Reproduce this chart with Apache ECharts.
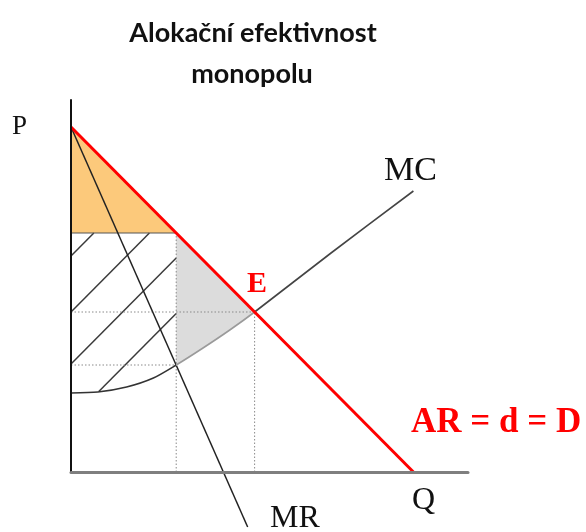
<!DOCTYPE html>
<html>
<head>
<meta charset="utf-8">
<title>Alokační efektivnost monopolu</title>
<script src="https://cdn.jsdelivr.net/npm/echarts@6/dist/echarts.min.js"></script>
<style>
  html, body { margin: 0; padding: 0; background: #fff; }
  #chart { width: 586px; height: 532px; }
</style>
</head>
<body>
<div id="chart"></div>
<script>
// Curves of the monopoly diagram (quantity, price)
var demand = [[0, 34.5], [34.5, 0]];                 // AR = d = D
var marginalRevenue = [[0, 34.5], [17.8, -5.5]];      // MR
var marginalCost = [[0, 7.9], [2.7, 8.0], [5.6, 8.5], [8.3, 9.4], [10.6, 10.7],
                    [13.3, 12.4], [16.0, 14.2], [18.5, 16.0], [26.2, 21.9], [34.5, 28.1]];

// Key quantities and prices
var qMonopoly = 10.6, pMonopoly = 23.9, mcAtMonopoly = 10.7;
var qCompetitive = 18.5, pCompetitive = 16.0;

// Shaded areas
var consumerSurplus = [[0, 34.5], [0, pMonopoly], [qMonopoly, pMonopoly]];
var deadweightLoss = [[qMonopoly, pMonopoly], [qCompetitive, pCompetitive],
                      [16.0, 14.2], [13.3, 12.4], [qMonopoly, mcAtMonopoly]];

// Hatching of the producer area
var hatchLines = [
  [[0, 21.6], [2.3, 23.9]],
  [[0, 16.0], [7.9, 23.9]],
  [[0, 10.8], [qMonopoly, 21.4]],
  [[2.8, 8.05], [qMonopoly, 15.85]]
];

// Dotted guides
var guides = [
  [[0, pCompetitive], [qCompetitive, pCompetitive]],
  [[qCompetitive, 0], [qCompetitive, pCompetitive]],
  [[0, mcAtMonopoly], [qMonopoly, mcAtMonopoly]],
  [[qMonopoly, 0], [qMonopoly, pMonopoly]]
];
var priceLine = [[0, pMonopoly], [qMonopoly, pMonopoly]];

var chart = echarts.init(document.getElementById('chart'), null, { renderer: 'canvas' });

function polygonSeries(points, color) {
  return {
    type: 'custom',
    coordinateSystem: 'cartesian2d',
    data: [points[0]],
    z: 1,
    silent: true,
    clip: false,
    renderItem: function (params, api) {
      return {
        type: 'polygon',
        shape: { points: points.map(function (p) { return api.coord(p); }) },
        style: { fill: color, stroke: null }
      };
    }
  };
}

function segment(data, color, width, type, z) {
  return {
    type: 'line',
    data: data,
    showSymbol: false,
    symbol: 'none',
    silent: true,
    clip: false,
    z: z || 3,
    lineStyle: { color: color, width: width, type: type || 'solid' }
  };
}

var series = [
  polygonSeries(consumerSurplus, '#FCC97B'),
  polygonSeries(deadweightLoss, '#DCDCDC')
];
hatchLines.forEach(function (l) { series.push(segment(l, '#3a3a3a', 1.5, 'solid', 3)); });
guides.forEach(function (l) { series.push(segment(l, '#8a8a8a', 1, [1.5, 2], 3)); });
series.push(segment(priceLine, '#555', 1, 'solid', 3));
series.push(segment(marginalRevenue, '#222', 1.5, 'solid', 4));
var mcIndex = series.length;
series.push({
  type: 'line',
  data: marginalCost,
  smooth: 0.25,
  showSymbol: false,
  symbol: 'none',
  silent: true,
  clip: false,
  z: 4,
  lineStyle: { width: 1.6 }
});
series.push(segment(demand, '#FF0000', 3, 'solid', 5));

var serif = '"Liberation Serif", "Times New Roman", serif';

chart.setOption({
  animation: false,
  backgroundColor: '#ffffff',
  grid: { left: 71, top: 100, width: 397, height: 372 },
  xAxis: {
    type: 'value', min: 0, max: 40, z: 6,
    axisLine: { show: true, onZero: false, lineStyle: { color: '#7f7f7f', width: 3 } },
    axisTick: { show: false }, axisLabel: { show: false }, splitLine: { show: false }
  },
  yAxis: {
    type: 'value', min: 0, max: 37.2, z: 6,
    axisLine: { show: true, onZero: false, lineStyle: { color: '#111', width: 2 } },
    axisTick: { show: false }, axisLabel: { show: false }, splitLine: { show: false }
  },
  visualMap: {
    show: false,
    type: 'piecewise',
    seriesIndex: mcIndex,
    dimension: 0,
    pieces: [
      { lt: qMonopoly, color: '#333' },
      { gte: qMonopoly, lte: qCompetitive, color: '#9a9a9a' },
      { gt: qCompetitive, color: '#444' }
    ]
  },
  series: series,
  graphic: [
    { type: 'text', x: 253, y: 33, style: { text: 'Alokační efektivnost', font: 'bold 27px Lato, "Noto Sans", sans-serif', fill: '#111', align: 'center', verticalAlign: 'middle' } },
    { type: 'text', x: 252, y: 74, style: { text: 'monopolu', font: 'bold 27px Lato, "Noto Sans", sans-serif', fill: '#111', align: 'center', verticalAlign: 'middle' } },
    { type: 'text', x: 12, y: 127, style: { text: 'P', font: '27px ' + serif, fill: '#111', align: 'left', verticalAlign: 'middle' } },
    { type: 'text', x: 384, y: 171, style: { text: 'MC', font: '34px ' + serif, fill: '#111', align: 'left', verticalAlign: 'middle' } },
    { type: 'text', x: 247, y: 284, style: { text: 'E', font: 'bold 30px ' + serif, fill: '#FF0000', align: 'left', verticalAlign: 'middle' } },
    { type: 'text', x: 411, y: 423, style: { text: 'AR = d = D', font: 'bold 35px ' + serif, fill: '#FF0000', align: 'left', verticalAlign: 'middle' } },
    { type: 'text', x: 412, y: 501, style: { text: 'Q', font: '32px ' + serif, fill: '#111', align: 'left', verticalAlign: 'middle' } },
    { type: 'text', x: 270, y: 519, style: { text: 'MR', font: '32px ' + serif, fill: '#111', align: 'left', verticalAlign: 'middle' } }
  ]
});
</script>
</body>
</html>
